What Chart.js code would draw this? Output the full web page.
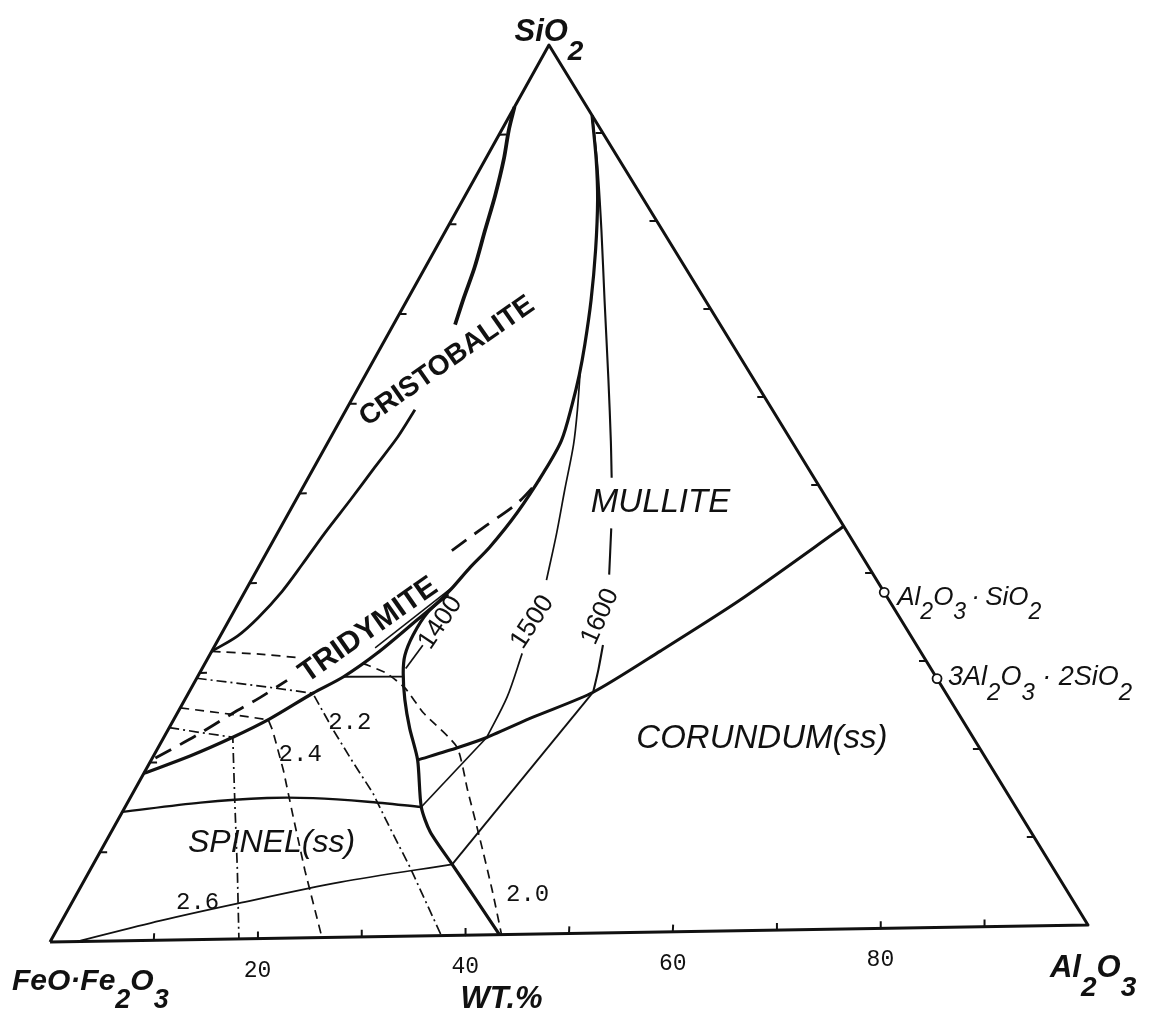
<!DOCTYPE html>
<html>
<head>
<meta charset="utf-8">
<title>FeO·Fe2O3 – Al2O3 – SiO2</title>
<script src="https://cdn.jsdelivr.net/npm/chart.js@4.4.1/dist/chart.umd.min.js"></script>
<style>
  html, body { margin: 0; padding: 0; background: #fff; }
  canvas { display: block; }
</style>
</head>
<body>
<canvas id="diagram" width="1168" height="1021"></canvas>
<script>
// Every composition is [wt% Al2O3, wt% SiO2]; FeO·Fe2O3 makes up the rest.

// Field boundaries
const cristobaliteUpper = [[0,93.1],[0.7,90.5],[1.8,87.2],[2.9,83.2],[3.8,79.3],[4.8,75.1],[5.4,71.7],[6.0,68.7]];
const cristobaliteLower = [[6.7,59.2],[6.5,56.2],[5.9,52.8],[5.3,49.2],[4.6,45.5],[4.1,42.0],[3.6,39.0],[2.7,36.1],[1.7,34.1],[0,32.4]];
const silicaBoundary = [[0,18.8],[3.6,20.7],[6.7,22.7],[9.3,24.7],[12.1,27.5],[14.2,29.3],[16.2,31.9],[18.3,35.6],[19.3,37.4],[19.9,38.9],[20.6,41.4],[21.4,43.6],[22.2,47.4],[22.6,51.9],[22.6,55.5],[21.7,59.5],[20.8,62.8],[19.7,66.2],[17.9,71.2],[15.6,76.9],[13.1,82.5],[10.8,87.0],[8.0,92.0]];
const silicaTwin = [[15.7,32.5],[19.9,39.1]];
const tridymiteDashed = [[0.3,20.5],[3.1,23.0],[5.4,25.4],[7.2,27.1],[8.9,29.0],null,[17.9,43.3],[19.7,45.8],[21.7,48.5],[22.6,51.1]];
const spinelBoundary = [[19.9,38.4],[18.9,36.4],[18.7,33.9],[19.0,31.6],[19.8,29.6],[21.4,26.6],[23.4,23.4],[25.9,19.8],[28.8,14.5],[31.0,11.7],[34.9,8.0],[38.9,4.2],[43.3,0]];
const spinelLiquidus = [[0,14.5],[7.1,15.4],[13.3,15.8],[17.8,15.7],[23.3,15.2],[28.8,14.5]];
const spinelLower = [[2.6,0],[9.6,2.2],[16.2,4.0],[25.0,6.2],[34.9,8.0]];
const spinelCorundumTie = [[34.9,8.0],[39.3,27.1]];
const spinelMulliteTie = [[28.8,14.5],[31.4,22.2]];
const corundumBoundary = [[25.9,19.8],[29.1,21.1],[31.4,22.2],[34.8,24.4],[39.3,27.1],[43.6,31.6],[48.6,37.2],[54.7,45.3]];
const tridymiteFloor = [[14.2,29.3],[20.0,29.2]];

// Isotherms (°C)
const isotherm1400 = [[19.8,30.1],[20.2,32.7]];
const isotherm1500 = [[20.7,63.2],[22.5,58.9],[24.0,55.0],[25.6,49.9],[27.2,44.9],[28.7,39.8],null,[30.3,31.6],[31.2,26.7],[31.4,22.2]];
const isotherm1600 = [[8.0,92.0],[11.2,86.4],[15.1,79.1],[19.2,71.2],[23.9,62.2],[27.4,55.4],[29.5,51.2],null,[32.2,45.5],[34.5,40.3],null,[37.7,32.4],[38.6,29.6],[39.3,27.1]];

// Lines of equal value (2.0 … 2.6)
const ratio20 = [[0,32.4],[4.8,32.0],[9.0,31.5],null,[15.3,30.8],[18.2,29.6],[20.8,27.9],[23.9,25.1],[29.0,21.2],[32.4,16.3],[36.3,10.7],[40.2,5.0],[43.5,0]];
const ratio22 = [[0,29.4],[6.6,28.4],[12.1,27.5],[16.1,23.3],[19.8,19.6],[23.3,16.2],[26.8,12.3],[31.0,7.7],[37.7,0]];
const ratio24 = [[0,26.1],[5.2,25.3],[9.2,24.6],[10.2,23.4],[13.4,18.9],[16.9,13.6],[20.9,7.6],[26.2,0]];
const ratio26 = [[0,23.9],[3.2,23.3],[6.7,22.7],[10.3,15.6],[14.3,7.8],[18.2,0]];

// Compounds on the Al2O3–SiO2 join
const compounds = [[62.2,37.8],[72.0,28.0]];

// Axis
const sideTicks = [10,20,30,40,50,60,70,80,90];
const bottomTickLabels = [20,40,60,80];

// ---- ternary projection into the plotting frame ----
const AL_CORNER = { x: 100, y: 1.64 };
const SI_CORNER = { x: 48.07, y: 86.42 };
function project(p) {
  if (!p) return { x: null, y: null };
  const [al, si] = p;
  return {
    x: al / 100 * AL_CORNER.x + si / 100 * SI_CORNER.x,
    y: al / 100 * AL_CORNER.y + si / 100 * SI_CORNER.y
  };
}

function line(points, width, extra) {
  return Object.assign({
    data: points.map(project),
    showLine: true,
    borderColor: '#111',
    borderWidth: width,
    pointRadius: 0,
    pointHoverRadius: 0,
    tension: 0,
    spanGaps: false,
    fill: false,
    order: 1
  }, extra || {});
}

// short inward ticks on the three sides, one segment per tick
const tickSegments = [];
sideTicks.forEach(t => {
  tickSegments.push([t, 0], [t - 0.35, 0.8], null);
  tickSegments.push([0, t], [0.7, t], null);
  tickSegments.push([100 - t, t], [100 - t - 0.7, t], null);
});

const DASH_FINE = [9, 6];
const DASH_DOT = [10, 4, 2, 4];

const datasets = [
  line([[0,0],[100,0],[0,100],[0,0]], 3),
  line(tickSegments, 2),
  line(cristobaliteUpper, 3.8, { tension: 0.3 }),
  line(cristobaliteLower, 2.8, { tension: 0.3 }),
  line(silicaBoundary, 3.2, { tension: 0.3 }),
  line(silicaTwin, 1.5),
  line(tridymiteDashed, 2.8, { tension: 0.3, borderDash: [18, 10] }),
  line(spinelBoundary, 3.2, { tension: 0.25 }),
  line(spinelLiquidus, 2.4, { tension: 0.3 }),
  line(spinelLower, 1.7, { tension: 0.3 }),
  line(spinelCorundumTie, 1.9),
  line(spinelMulliteTie, 1.7),
  line(corundumBoundary, 3, { tension: 0.25 }),
  line(tridymiteFloor, 1.9),
  line(isotherm1400, 1.7),
  line(isotherm1500, 1.7, { tension: 0.3 }),
  line(isotherm1600, 2.1, { tension: 0.3 }),
  line(ratio20, 1.7, { tension: 0.2, borderDash: DASH_FINE }),
  line(ratio22, 1.7, { borderDash: DASH_DOT }),
  line(ratio24, 1.7, { borderDash: DASH_FINE }),
  line(ratio26, 1.7, { borderDash: DASH_DOT }),
  {
    data: compounds.map(project),
    showLine: false,
    pointRadius: 4.5,
    pointHoverRadius: 4.5,
    pointBorderWidth: 1.8,
    pointBorderColor: '#111',
    pointBackgroundColor: '#fff',
    order: -1
  }
];

// ---- text ----
const SANS = '"Liberation Sans", Arial, sans-serif';
const MONO = '"Liberation Mono", "Courier New", monospace';

const labels = [
  // corners and axis
  { text: 'SiO_2', at: [0, 100], dy: -4, size: 31, style: 'italic', weight: 'bold', baseline: 'alphabetic' },
  { text: 'FeO·Fe_2O_3', at: [0, 0], dx: -38, dy: 48, size: 30, style: 'italic', weight: 'bold', align: 'left', baseline: 'alphabetic' },
  { text: 'Al_2O_3', at: [100, 0], dx: -38, dy: 52, size: 31, style: 'italic', weight: 'bold', align: 'left', baseline: 'alphabetic' },
  { text: 'WT.%', at: [43.5, 0], dy: 73, size: 31, style: 'italic', weight: 'bold', baseline: 'alphabetic' },
  // compounds
  { text: 'Al_2O_3\u2009·\u2009SiO_2', at: compounds[0], dx: 13, dy: 5, size: 26, style: 'italic', align: 'left' },
  { text: '3Al_2O_3 · 2SiO_2', at: compounds[1], dx: 11, dy: -1, size: 27, style: 'italic', align: 'left' },
  // phase fields
  { text: 'CRISTOBALITE', at: [7.2, 64.6], rot: -35, size: 28, weight: 'bold' },
  { text: 'TRIDYMITE', at: [14.1, 34.5], rot: -35, size: 30, weight: 'bold' },
  { text: 'MULLITE', at: [35.6, 48.3], size: 33, style: 'italic' },
  { text: 'CORUNDUM(ss)', at: [58.2, 21.6], size: 33, style: 'italic' },
  { text: 'SPINEL(ss)', at: [16.2, 10.7], size: 32, style: 'italic' },
  // isotherms
  { text: '1400', at: [20.7, 35.2], rot: -56, size: 26 },
  { text: '1500', at: [29.6, 35.1], rot: -57, size: 26 },
  { text: '1600', at: [35.9, 35.6], rot: -66, size: 26 },
  // equal-value lines
  { text: '2.0', at: [43.9, 4.4], size: 24, family: MONO },
  { text: '2.2', at: [17.3, 24.1], size: 24, family: MONO },
  { text: '2.4', at: [14.2, 20.6], size: 24, family: MONO },
  { text: '2.6', at: [12.2, 4.2], size: 24, family: MONO }
];
bottomTickLabels.forEach(v => {
  labels.push({ text: String(v), at: [v, 0], dy: 32, size: 23, family: MONO });
});

function parseRuns(str) {
  const runs = [];
  for (let i = 0; i < str.length; i++) {
    if (str[i] === '_' && i + 1 < str.length) { runs.push({ t: str[i + 1], sub: true }); i++; }
    else {
      const last = runs[runs.length - 1];
      if (last && !last.sub) last.t += str[i]; else runs.push({ t: str[i], sub: false });
    }
  }
  return runs;
}

function drawLabel(ctx, L) {
  const family = L.family || SANS;
  const runs = parseRuns(L.text);
  const fontFor = sub => `${L.style || 'normal'} ${L.weight || 'normal'} ${Math.round(L.size * (sub ? 0.9 : 1))}px ${family}`;
  let total = 0;
  runs.forEach(r => { ctx.font = fontFor(r.sub); r.w = ctx.measureText(r.t).width; total += r.w; });
  let cx = (L.align === 'left') ? 0 : -total / 2;
  ctx.textAlign = 'left';
  ctx.textBaseline = L.baseline || 'middle';
  ctx.fillStyle = '#111';
  runs.forEach(r => {
    ctx.font = fontFor(r.sub);
    ctx.fillText(r.t, cx, r.sub ? L.size * 0.6 : 0);
    cx += r.w;
  });
}

const paperBackground = {
  id: 'paperBackground',
  beforeDraw(chart) {
    const { ctx, width, height } = chart;
    ctx.save();
    ctx.fillStyle = '#fff';
    ctx.fillRect(0, 0, width, height);
    ctx.restore();
  }
};

const ternaryText = {
  id: 'ternaryText',
  afterDatasetsDraw(chart) {
    const { ctx } = chart;
    const xs = chart.scales.x, ys = chart.scales.y;
    labels.forEach(L => {
      const p = project(L.at);
      const px = xs.getPixelForValue(p.x) + (L.dx || 0);
      const py = ys.getPixelForValue(p.y) + (L.dy || 0);
      ctx.save();
      ctx.translate(px, py);
      if (L.rot) ctx.rotate(L.rot * Math.PI / 180);
      drawLabel(ctx, L);
      ctx.restore();
    });
  }
};

new Chart(document.getElementById('diagram'), {
  type: 'scatter',
  data: { datasets },
  options: {
    responsive: false,
    animation: false,
    devicePixelRatio: 1,
    layout: { padding: 0, autoPadding: false },
    scales: {
      x: { type: 'linear', min: -4.817, max: 107.71, display: false },
      y: { type: 'linear', min: -7.611, max: 90.751, display: false }
    },
    plugins: { legend: { display: false }, tooltip: { enabled: false } },
    elements: { line: { borderCapStyle: 'butt', borderJoinStyle: 'round' } }
  },
  plugins: [paperBackground, ternaryText]
});
</script>
</body>
</html>
